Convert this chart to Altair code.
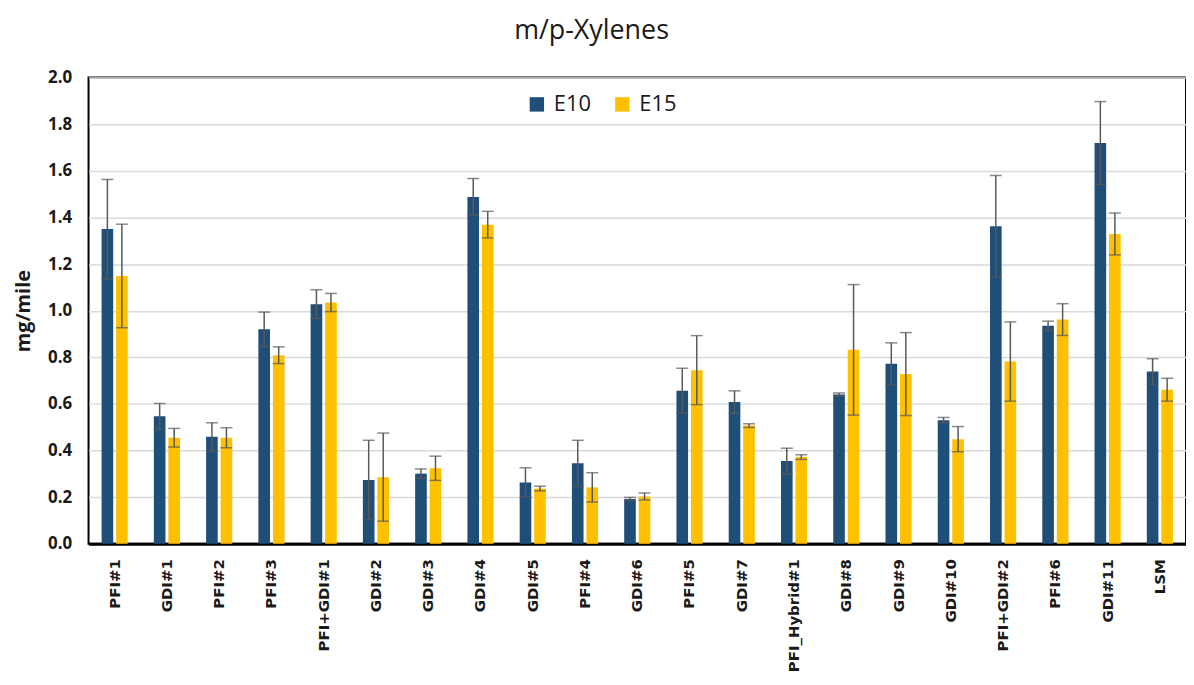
import altair as alt
import pandas as pd

categories = ["PFI#1", "GDI#1", "PFI#2", "PFI#3", "PFI+GDI#1", "GDI#2", "GDI#3", "GDI#4",
              "GDI#5", "PFI#4", "GDI#6", "PFI#5", "GDI#7", "PFI_Hybrid#1", "GDI#8", "GDI#9",
              "GDI#10", "PFI+GDI#2", "PFI#6", "GDI#11", "LSM"]

e10_values = [1.350, 0.547, 0.459, 0.920, 1.028, 0.274, 0.301, 1.488, 0.263, 0.345, 0.192,
              0.657, 0.608, 0.355, 0.640, 0.772, 0.530, 1.362, 0.935, 1.719, 0.739]
e10_errors = [0.213, 0.055, 0.060, 0.074, 0.062, 0.170, 0.020, 0.079, 0.063, 0.099, 0.007,
              0.096, 0.048, 0.055, 0.007, 0.090, 0.012, 0.218, 0.020, 0.178, 0.055]
e15_values = [1.149, 0.455, 0.455, 0.809, 1.035, 0.286, 0.324, 1.369, 0.237, 0.242, 0.203,
              0.745, 0.507, 0.372, 0.832, 0.728, 0.449, 0.782, 0.962, 1.329, 0.661]
e15_errors = [0.222, 0.040, 0.043, 0.036, 0.039, 0.189, 0.052, 0.057, 0.010, 0.063, 0.015,
              0.148, 0.008, 0.010, 0.280, 0.178, 0.054, 0.170, 0.068, 0.090, 0.049]

series = ["E10", "E15"]
colors = ["#1F4E79", "#FFC000"]
y_ticks = [0.0, 0.2, 0.4, 0.6, 0.8, 1.0, 1.2, 1.4, 1.6, 1.8, 2.0]

rows = []
for name, vals, errs in [("E10", e10_values, e10_errors), ("E15", e15_values, e15_errors)]:
    for c, v, e in zip(categories, vals, errs):
        rows.append({"Category": c, "Fuel": name, "value": v, "lo": v - e, "hi": v + e})
df = pd.DataFrame(rows)

yaxis = alt.Axis(values=y_ticks, format=".1f", title="mg/mile", ticks=False, domain=False,
                 grid=True, gridColor="#D9D9D9", gridWidth=1.5,
                 labelFont="Open Sans", labelFontWeight="bold", labelFontSize=17,
                 labelColor="#1a1a1a", labelPadding=17,
                 titleFont="Open Sans", titleFontWeight="bold", titleFontSize=20,
                 titleColor="#1a1a1a", titlePadding=14)
yscale = alt.Scale(domain=[0, 2], nice=False)

base = alt.Chart(df).encode(
    x=alt.X("Category:N", sort=categories, title=None,
            scale=alt.Scale(paddingInner=0.5, paddingOuter=0.25),
            axis=alt.Axis(labelAngle=-90, labelAlign="right", labelBaseline="middle",
                          labelFont="DejaVu Sans", labelFontWeight="bold", labelFontSize=15,
                          labelColor="#1a1a1a", labelPadding=15, ticks=False,
                          domain=True, domainColor="#000000", domainWidth=3)),
    xOffset=alt.XOffset("Fuel:N", sort=series, scale=alt.Scale(paddingInner=0.2, paddingOuter=0)),
)

bars = base.mark_bar().encode(
    y=alt.Y("value:Q", scale=yscale, axis=yaxis),
    color=alt.Color("Fuel:N", sort=series,
                    scale=alt.Scale(domain=series, range=colors),
                    legend=alt.Legend(orient="none", legendX=440, legendY=16,
                                      direction="horizontal", title=None,
                                      symbolType="square", symbolSize=210,
                                      symbolStrokeWidth=0, labelFont="Open Sans",
                                      labelFontSize=22, labelColor="#1a1a1a",
                                      columnPadding=20, labelOffset=6)),
)

rules = base.mark_rule(color="#595959", strokeWidth=1.5).encode(
    y=alt.Y("lo:Q", scale=yscale, axis=yaxis), y2="hi:Q")
caps_hi = base.mark_tick(color="#595959", thickness=1.5, size=12).encode(
    y=alt.Y("hi:Q", scale=yscale, axis=yaxis))
caps_lo = base.mark_tick(color="#595959", thickness=1.5, size=12).encode(
    y=alt.Y("lo:Q", scale=yscale, axis=yaxis))

chart = alt.layer(bars, rules, caps_hi, caps_lo).properties(
    width=1104, height=469,
    title=alt.TitleParams("m/p-Xylenes", fontSize=27, font="Open Sans", fontWeight="normal",
                          anchor="middle", dx=-46, offset=11, baseline="middle",
                          color="#1a1a1a"),
    autosize=alt.AutoSizeParams(type="none"),
    padding={"left": 81, "top": 68, "right": 0, "bottom": 130},
).configure_view(stroke="#000000", strokeWidth=2)

chart.save("out.html", embed_options={"renderer": "svg", "actions": False})
